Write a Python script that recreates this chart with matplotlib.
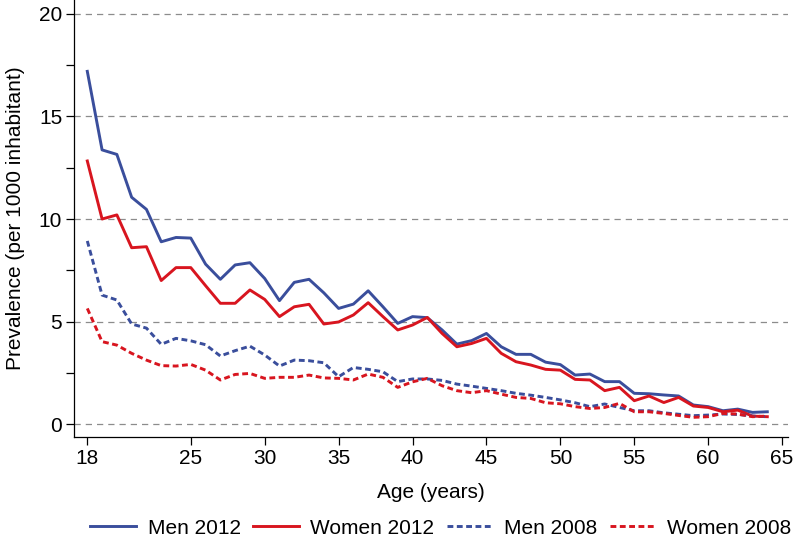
import matplotlib
matplotlib.use('Agg')
import matplotlib.pyplot as plt
from matplotlib.ticker import MultipleLocator

plt.rcParams['font.family'] = ['Liberation Sans', 'DejaVu Sans']

# data
ages = list(range(18, 65))
men_2012 = [17.2, 13.37, 13.15, 11.06, 10.47, 8.89, 9.1, 9.07, 7.8, 7.06, 7.76, 7.87,
            7.1, 6.02, 6.91, 7.06, 6.4, 5.64, 5.85, 6.5, 5.72, 4.91, 5.24, 5.19, 4.59,
            3.9, 4.07, 4.42, 3.77, 3.4, 3.4, 3.02, 2.9, 2.39, 2.44, 2.07, 2.07, 1.5,
            1.48, 1.42, 1.37, 0.93, 0.85, 0.65, 0.73, 0.57, 0.6]
women_2012 = [12.83, 10.0, 10.2, 8.6, 8.65, 7.0, 7.63, 7.63, 6.75, 5.89, 5.89, 6.54,
              6.08, 5.24, 5.72, 5.84, 4.88, 4.98, 5.32, 5.92, 5.24, 4.59, 4.83, 5.2,
              4.42, 3.77, 3.93, 4.18, 3.45, 3.04, 2.88, 2.67, 2.63, 2.18, 2.15, 1.63,
              1.79, 1.14, 1.37, 1.05, 1.3, 0.88, 0.81, 0.6, 0.68, 0.39, 0.36]
men_2008 = [8.93, 6.29, 6.05, 4.88, 4.68, 3.89, 4.18, 4.06, 3.87, 3.32, 3.58, 3.8,
            3.37, 2.83, 3.12, 3.09, 2.99, 2.31, 2.76, 2.67, 2.55, 2.07, 2.2, 2.2, 2.13,
            1.95, 1.85, 1.74, 1.63, 1.5, 1.41, 1.3, 1.18, 1.04, 0.85, 0.98, 0.81, 0.65,
            0.65, 0.55, 0.48, 0.41, 0.44, 0.49, 0.47, 0.39, 0.36]
women_2008 = [5.64, 4.02, 3.85, 3.45, 3.12, 2.85, 2.83, 2.91, 2.63, 2.15, 2.42, 2.47,
              2.23, 2.28, 2.28, 2.39, 2.25, 2.23, 2.15, 2.44, 2.28, 1.79, 2.06, 2.23,
              1.87, 1.63, 1.53, 1.63, 1.46, 1.3, 1.25, 1.04, 0.99, 0.85, 0.76, 0.81,
              1.01, 0.6, 0.6, 0.52, 0.42, 0.33, 0.36, 0.52, 0.49, 0.36, 0.39]
x_ticks = [18, 25, 30, 35, 40, 45, 50, 55, 60, 65]
y_ticks = [0, 5, 10, 15, 20]

blue = '#3a4e9c'
red = '#d8151f'
fs = 15

fig = plt.figure(figsize=(7.99, 5.53), dpi=100)
ax = fig.add_axes([74 / 799, 1 - 437 / 553, (788 - 74) / 799, 437 / 553])

# grid first so lines sit on top
for v in y_ticks:
    ax.axhline(v, color='#8c8c8c', lw=0.9, ls=(0, (5, 4)), zorder=1)

ax.plot(ages, men_2012, color=blue, lw=2.1, label='Men 2012', zorder=3)
ax.plot(ages, women_2012, color=red, lw=2.1, label='Women 2012', zorder=3)
ax.plot(ages, men_2008, color=blue, lw=2.1, ls=(0, (2.0, 1.2)), label='Men 2008', zorder=3)
ax.plot(ages, women_2008, color=red, lw=2.1, ls=(0, (2.0, 1.2)), label='Women 2008', zorder=3)

ax.set_xlim(17.1, 65.4)
ax.set_ylim(-0.63, 20.68)
ax.set_xticks(x_ticks)
ax.set_yticks(y_ticks)
ax.yaxis.set_minor_locator(MultipleLocator(2.5))
ax.tick_params(axis='both', which='both', direction='out', length=5.5, width=0.9,
               labelsize=fs, colors='black')
ax.tick_params(axis='y', pad=3)
ax.tick_params(axis='x', pad=3)

for s in ['top', 'right']:
    ax.spines[s].set_visible(False)
for s in ['left', 'bottom']:
    ax.spines[s].set_linewidth(0.9)

ax.set_xlabel('Age (years)', fontsize=fs, labelpad=11)
ax.set_ylabel('Prevalence (per 1000 inhabitant)', fontsize=fs, labelpad=10)

fig.legend(loc='center', bbox_to_anchor=(441 / 799, 1 - 528 / 553), ncol=4, frameon=False,
           fontsize=fs, handlelength=2.2, handletextpad=0.55, columnspacing=0.6)

fig.savefig('out.png', dpi=100)
